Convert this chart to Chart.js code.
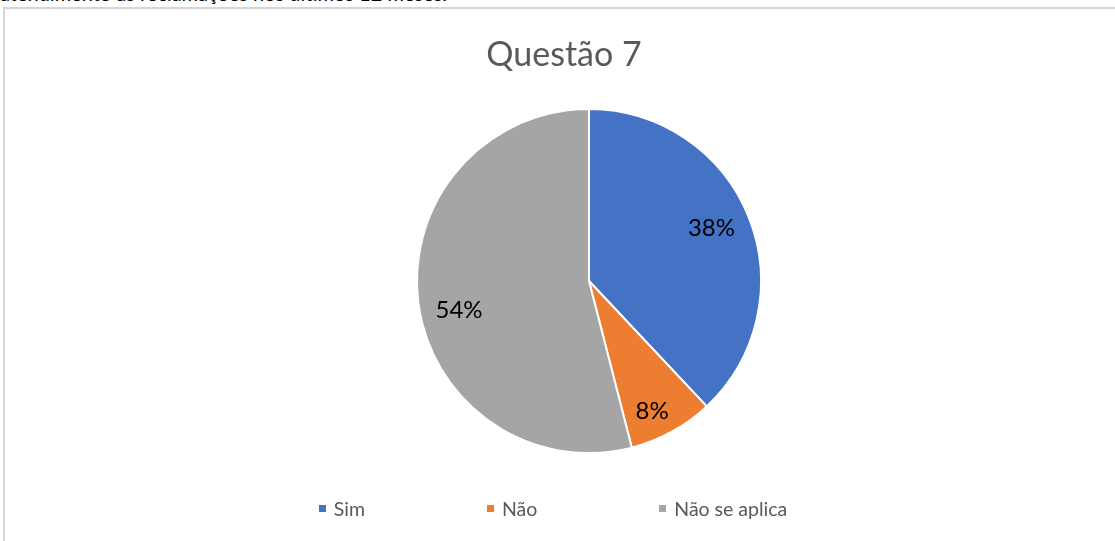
<!DOCTYPE html>
<html lang="pt">
<head>
<meta charset="utf-8">
<title>Questão 7</title>
<script src="https://cdn.jsdelivr.net/npm/chart.js@4/dist/chart.umd.min.js"></script>
<style>
    html, body {
        margin: 0;
        padding: 0;
        width: 1115px;
        height: 541px;
        overflow: hidden;
        background: #fff;
        font-family: Lato, "Open Sans", sans-serif;
    }
    .page-text {
        position: absolute;
        left: 0;
        top: -17px;
        font-size: 20px;
        line-height: 20px;
        color: #000;
        white-space: nowrap;
    }
    .frame {
        position: absolute;
        left: 3px;
        top: 7px;
        width: 1200px;
        height: 600px;
        border: 2px solid #d6d6d6;
        box-sizing: border-box;
    }
    #chartCanvas {
        position: absolute;
        left: 0;
        top: 0;
    }
    .chart-title {
        position: absolute;
        left: 0;
        width: 1128px;
        top: 32px;
        text-align: center;
        font-size: 34px;
        font-weight: 400;
        color: #595959;
    }
    .legend {
        position: absolute;
        left: 0;
        width: 1106px;
        top: 497px;
        display: flex;
        justify-content: center;
        gap: 122px;
        font-size: 19.5px;
        color: #595959;
    }
    .legend-item {
        display: flex;
        align-items: center;
    }
    .legend-box {
        width: 7px;
        height: 7px;
        margin-right: 8px;
    }
</style>
</head>
<body>
<div class="page-text">atendimento às reclamações nos últimos 12 meses.</div>
<div class="frame"></div>
<canvas id="chartCanvas" width="1115" height="541"></canvas>
<div class="chart-title" id="chartTitle"></div>
<div class="legend" id="legend"></div>

<script>
const chartTitle = 'Questão 7';
const categories = ['Sim', 'Não', 'Não se aplica'];
const percentages = [38, 8, 54];
const sliceColors = ['#4472C4', '#ED7D31', '#A5A5A5'];

// Excel "best fit" label placement: fraction of radius and a small angle nudge (degrees)
const labelRadius = [0.775, 0.84, 0.775];
const labelAngleShift = [-1.7, 2.9, -5.6];

const pieLabels = {
    id: 'pieLabels',
    afterDatasetsDraw(chart) {
        const ctx = chart.ctx;
        const meta = chart.getDatasetMeta(0);
        const values = chart.data.datasets[0].data;
        const total = values.reduce((a, b) => a + b, 0);

        ctx.save();
        ctx.font = '24px Lato, "Open Sans", sans-serif';
        ctx.fillStyle = '#000';
        ctx.textAlign = 'center';
        ctx.textBaseline = 'middle';
        meta.data.forEach((arc, i) => {
            const p = arc.getProps(['x', 'y', 'startAngle', 'endAngle', 'outerRadius'], true);
            const mid = (p.startAngle + p.endAngle) / 2 + labelAngleShift[i] * Math.PI / 180;
            const r = p.outerRadius * labelRadius[i];
            const pct = Math.round(values[i] / total * 100) + '%';
            ctx.fillText(pct, p.x + Math.cos(mid) * r, p.y + Math.sin(mid) * r);
        });
        ctx.restore();
    }
};

function buildLegend() {
    const legend = document.getElementById('legend');
    categories.forEach((cat, i) => {
        const item = document.createElement('div');
        item.className = 'legend-item';
        item.innerHTML = `<span class="legend-box" style="background:${sliceColors[i]}"></span><span>${cat}</span>`;
        legend.appendChild(item);
    });
}

document.getElementById('chartTitle').textContent = chartTitle;
buildLegend();

const ctx = document.getElementById('chartCanvas').getContext('2d');
new Chart(ctx, {
    type: 'pie',
    data: {
        labels: categories,
        datasets: [{
            data: percentages,
            backgroundColor: sliceColors,
            borderColor: '#ffffff',
            borderWidth: 2
        }]
    },
    options: {
        responsive: false,
        devicePixelRatio: 1,
        animation: false,
        layout: {
            padding: { top: 108, bottom: 87, left: 416, right: 353 }
        },
        plugins: {
            legend: { display: false },
            tooltip: { enabled: false },
            title: { display: false }
        }
    },
    plugins: [pieLabels]
});
</script>
</body>
</html>
